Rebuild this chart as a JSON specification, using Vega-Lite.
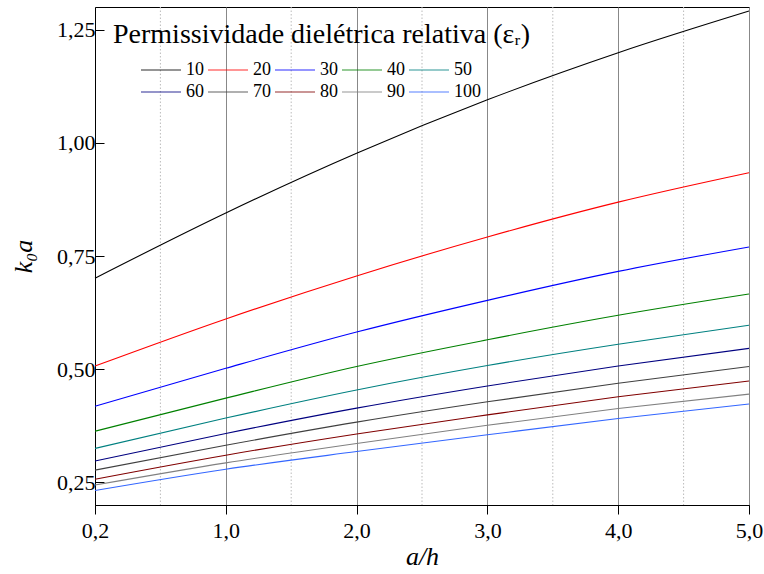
{
  "$schema": "https://vega.github.io/schema/vega-lite/v6.json",
  "autosize": "none",
  "width": 654,
  "height": 498,
  "padding": {"left": 95, "top": 7, "right": 15, "bottom": 69},
  "background": "white",
  "config": {
    "view": {"stroke": "black", "strokeWidth": 1},
    "font": "Liberation Serif, DejaVu Serif, serif"
  },
  "title": {
    "text": "Permissividade dielétrica relativa (εᵣ)",
    "anchor": "start",
    "frame": "group",
    "orient": "top",
    "dx": 18,
    "offset": -42,
    "font": "Liberation Serif, DejaVu Serif, serif",
    "fontSize": 28,
    "fontWeight": "normal",
    "color": "black"
  },
  "datasets": {
    "curves": [
      {"a_h": 0, "eps": 10, "k0a": 0.701}, {"a_h": 1, "eps": 10, "k0a": 0.845}, {"a_h": 2, "eps": 10, "k0a": 0.977}, {"a_h": 3, "eps": 10, "k0a": 1.095}, {"a_h": 4, "eps": 10, "k0a": 1.199}, {"a_h": 5, "eps": 10, "k0a": 1.291},
      {"a_h": 0, "eps": 20, "k0a": 0.507}, {"a_h": 1, "eps": 20, "k0a": 0.611}, {"a_h": 2, "eps": 20, "k0a": 0.706}, {"a_h": 3, "eps": 20, "k0a": 0.792}, {"a_h": 4, "eps": 20, "k0a": 0.869}, {"a_h": 5, "eps": 20, "k0a": 0.934},
      {"a_h": 0, "eps": 30, "k0a": 0.418}, {"a_h": 1, "eps": 30, "k0a": 0.502}, {"a_h": 2, "eps": 30, "k0a": 0.582}, {"a_h": 3, "eps": 30, "k0a": 0.652}, {"a_h": 4, "eps": 30, "k0a": 0.716}, {"a_h": 5, "eps": 30, "k0a": 0.770},
      {"a_h": 0, "eps": 40, "k0a": 0.363}, {"a_h": 1, "eps": 40, "k0a": 0.436}, {"a_h": 2, "eps": 40, "k0a": 0.506}, {"a_h": 3, "eps": 40, "k0a": 0.565}, {"a_h": 4, "eps": 40, "k0a": 0.619}, {"a_h": 5, "eps": 40, "k0a": 0.666},
      {"a_h": 0, "eps": 50, "k0a": 0.325}, {"a_h": 1, "eps": 50, "k0a": 0.392}, {"a_h": 2, "eps": 50, "k0a": 0.454}, {"a_h": 3, "eps": 50, "k0a": 0.508}, {"a_h": 4, "eps": 50, "k0a": 0.555}, {"a_h": 5, "eps": 50, "k0a": 0.597},
      {"a_h": 0, "eps": 60, "k0a": 0.297}, {"a_h": 1, "eps": 60, "k0a": 0.358}, {"a_h": 2, "eps": 60, "k0a": 0.414}, {"a_h": 3, "eps": 60, "k0a": 0.463}, {"a_h": 4, "eps": 60, "k0a": 0.507}, {"a_h": 5, "eps": 60, "k0a": 0.546},
      {"a_h": 0, "eps": 70, "k0a": 0.277}, {"a_h": 1, "eps": 70, "k0a": 0.332}, {"a_h": 2, "eps": 70, "k0a": 0.383}, {"a_h": 3, "eps": 70, "k0a": 0.428}, {"a_h": 4, "eps": 70, "k0a": 0.469}, {"a_h": 5, "eps": 70, "k0a": 0.506},
      {"a_h": 0, "eps": 80, "k0a": 0.257}, {"a_h": 1, "eps": 80, "k0a": 0.310}, {"a_h": 2, "eps": 80, "k0a": 0.357}, {"a_h": 3, "eps": 80, "k0a": 0.399}, {"a_h": 4, "eps": 80, "k0a": 0.439}, {"a_h": 5, "eps": 80, "k0a": 0.474},
      {"a_h": 0, "eps": 90, "k0a": 0.244}, {"a_h": 1, "eps": 90, "k0a": 0.293}, {"a_h": 2, "eps": 90, "k0a": 0.336}, {"a_h": 3, "eps": 90, "k0a": 0.376}, {"a_h": 4, "eps": 90, "k0a": 0.413}, {"a_h": 5, "eps": 90, "k0a": 0.445},
      {"a_h": 0, "eps": 100, "k0a": 0.232}, {"a_h": 1, "eps": 100, "k0a": 0.279}, {"a_h": 2, "eps": 100, "k0a": 0.318}, {"a_h": 3, "eps": 100, "k0a": 0.355}, {"a_h": 4, "eps": 100, "k0a": 0.391}, {"a_h": 5, "eps": 100, "k0a": 0.423}
    ],
    "minor": [{"g": 0.5}, {"g": 1.5}, {"g": 2.5}, {"g": 3.5}, {"g": 4.5}]
  },
  "layer": [
    {
      "data": {"name": "minor"},
      "mark": {"type": "rule", "color": "#bbbbbb", "strokeWidth": 1, "strokeDash": [1.5, 2]},
      "encoding": {
        "x": {"field": "g", "type": "quantitative", "scale": {"domain": [0, 5]}}
      }
    },
    {
      "data": {"name": "curves"},
      "mark": {"type": "line", "strokeWidth": 1.1, "interpolate": "monotone"},
      "encoding": {
        "x": {
          "field": "a_h", "type": "quantitative",
          "scale": {"domain": [0, 5], "nice": false, "zero": false},
          "axis": {
            "values": [0, 1, 2, 3, 4, 5],
            "title": "a/h",
            "titleFontStyle": "italic",
            "titleFontWeight": "normal",
            "titleFont": "Liberation Serif, DejaVu Serif, serif",
            "titleFontSize": 26,
            "titleColor": "black",
            "titlePadding": 2,
            "labelExpr": "datum.value == 0 ? '0,2' : replace(format(datum.value, '.1f'), '.', ',')",
            "labelFont": "Liberation Serif, DejaVu Serif, serif",
            "labelFontSize": 22,
            "labelColor": "black",
            "labelPadding": 6,
            "labelFlush": false,
            "labelOverlap": false,
            "tickSize": 9,
            "tickColor": "black",
            "domainColor": "black",
            "grid": true,
            "gridColor": "#888888",
            "gridWidth": 1
          }
        },
        "y": {
          "field": "k0a", "type": "quantitative",
          "scale": {"domain": [0.2, 1.3], "nice": false, "zero": false},
          "axis": {
            "values": [0.25, 0.5, 0.75, 1.0, 1.25],
            "title": "k₀a",
            "titleFontStyle": "italic",
            "titleFontWeight": "normal",
            "titleFont": "Liberation Serif, DejaVu Serif, serif",
            "titleFontSize": 26,
            "titleColor": "black",
            "titlePadding": 20,
            "labelExpr": "replace(format(datum.value, '.2f'), '.', ',')",
            "labelFont": "Liberation Serif, DejaVu Serif, serif",
            "labelFontSize": 22,
            "labelColor": "black",
            "labelPadding": 9,
            "labelFlush": false,
            "labelOverlap": false,
            "tickSize": -9,
            "tickColor": "black",
            "domainColor": "black",
            "grid": false
          }
        },
        "color": {
          "field": "eps", "type": "ordinal",
          "scale": {
            "domain": [10, 20, 30, 40, 50, 60, 70, 80, 90, 100],
            "range": ["#000000", "#ff0000", "#0000ff", "#008000", "#008080", "#000080", "#404040", "#800000", "#808080", "#3366ff"]
          },
          "legend": {
            "orient": "none",
            "legendX": 55,
            "legendY": 52,
            "direction": "horizontal",
            "columns": 5,
            "gridAlign": "each",
            "columnPadding": 0,
            "rowPadding": 2,
            "title": null,
            "symbolType": "M-2,0H2",
            "symbolSize": 400,
            "symbolStrokeWidth": 1.6,
            "symbolOpacity": 0.55,
            "labelFont": "Liberation Serif, DejaVu Serif, serif",
            "labelFontSize": 18,
            "labelColor": "black",
            "labelOffset": 14
          }
        }
      }
    }
  ]
}
